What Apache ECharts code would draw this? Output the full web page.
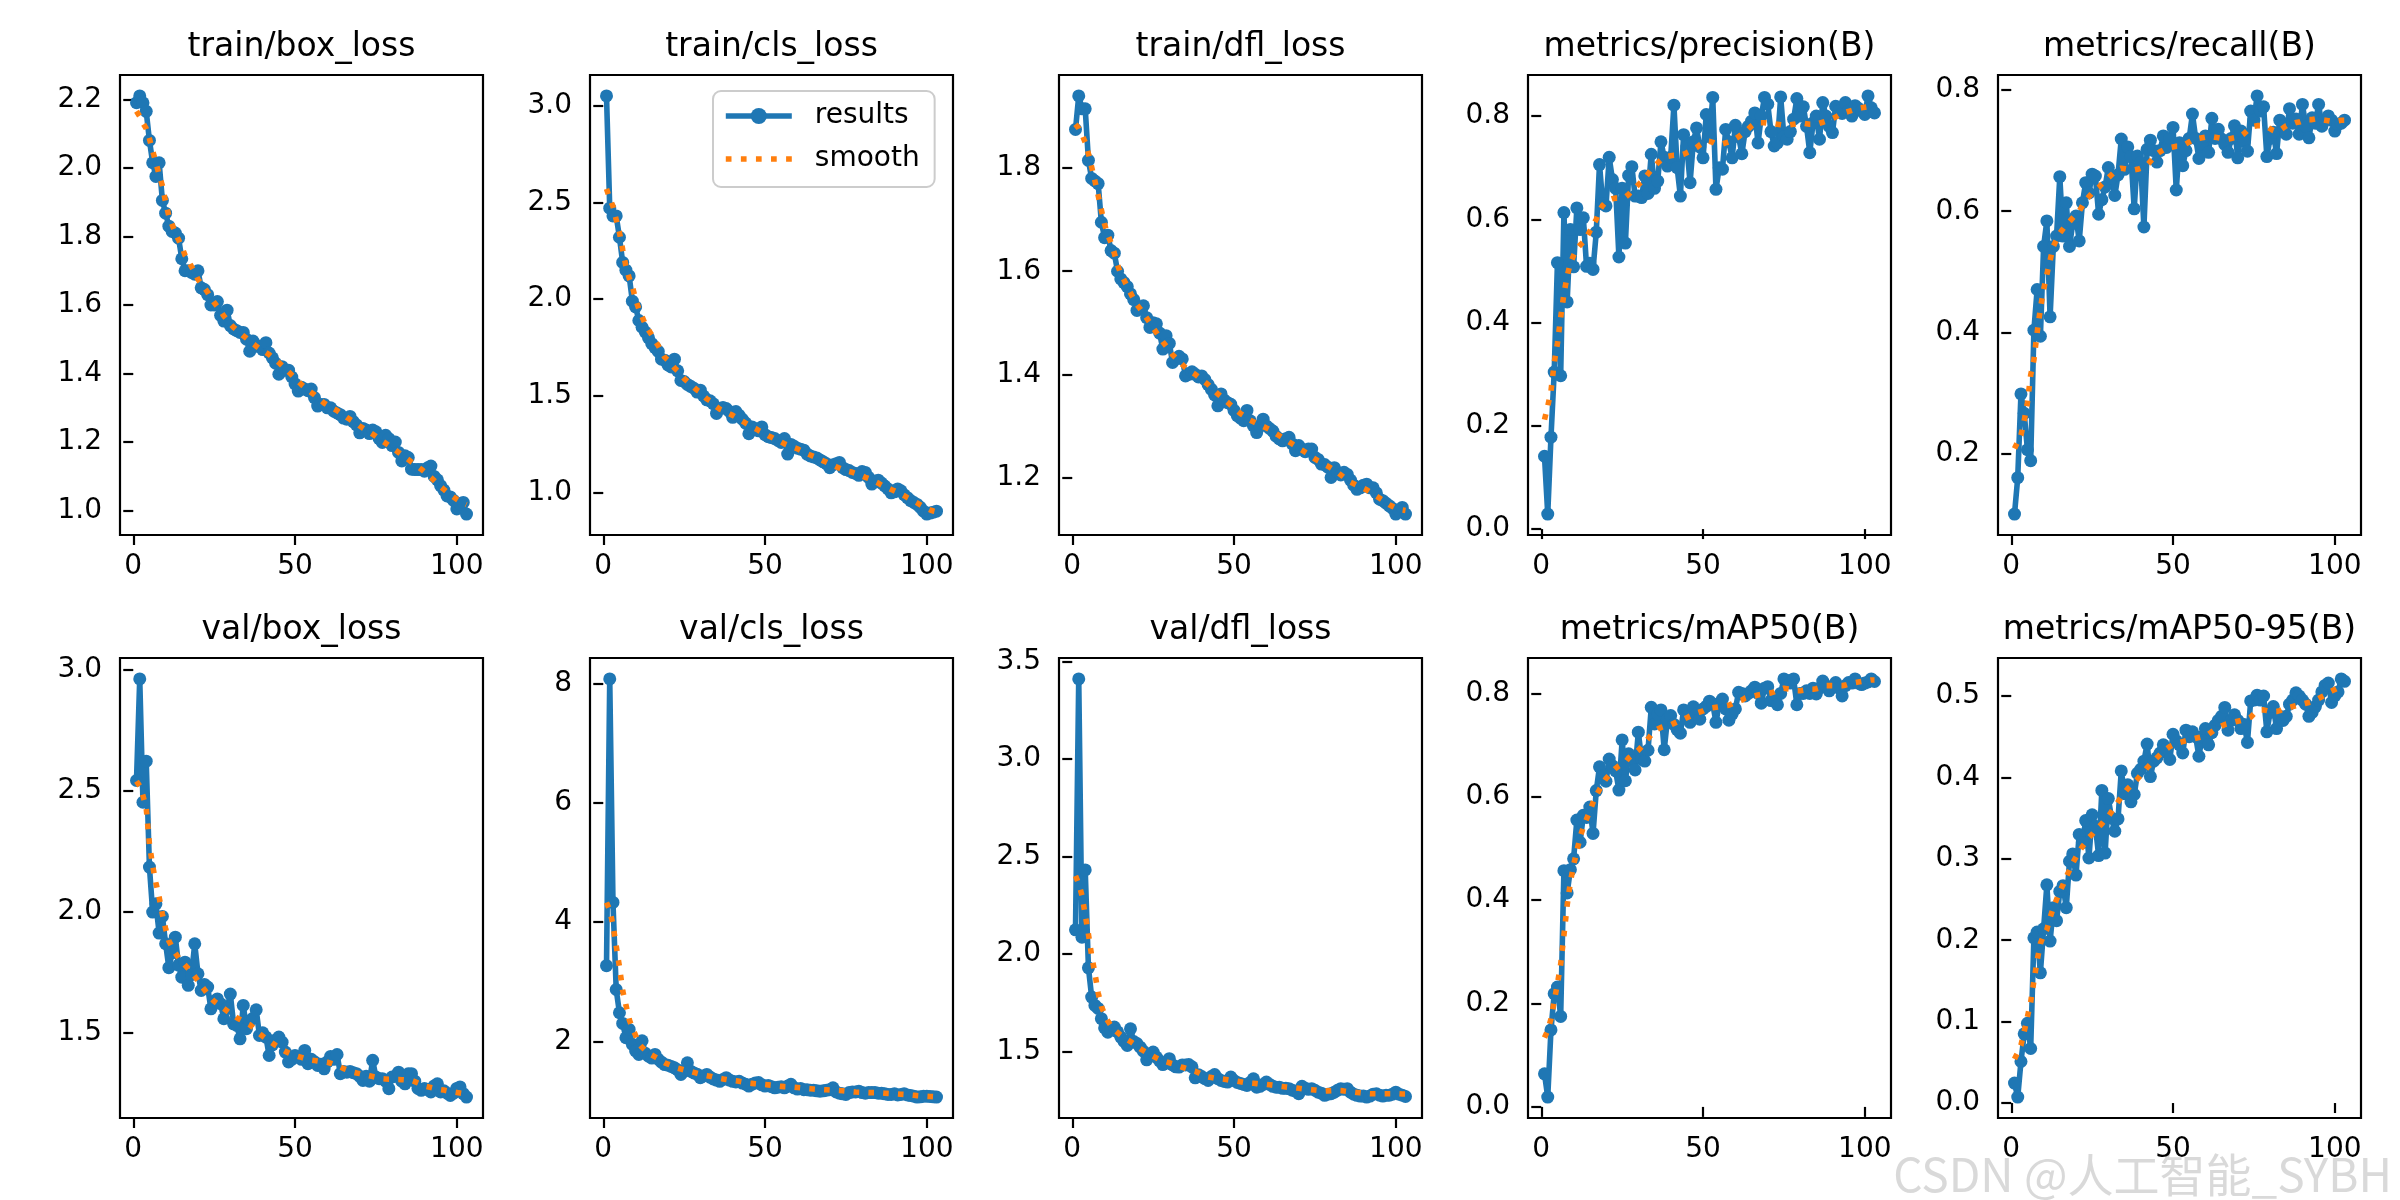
<!DOCTYPE html>
<html>
<head>
<meta charset="utf-8">
<script src="https://cdn.jsdelivr.net/npm/echarts@6/dist/echarts.min.js"></script>
<style>
html, body { margin: 0; background: #fff; }
#chart { width: 2400px; height: 1200px; }
</style>
</head>
<body>
<div id="chart"></div>
<script>
// epoch index (x axis)
const epochs = Array.from({ length: 103 }, (_, i) => i + 1);
const xTicks = ['0', '50', '100'];

const trainBoxLoss = [
  2.19, 2.21, 2.19, 2.165, 2.08, 2.015, 1.975, 2.015, 1.905, 1.868,
  1.83, 1.815, 1.81, 1.795, 1.735, 1.70, 1.70, 1.695, 1.69, 1.70,
  1.65, 1.645, 1.63, 1.60, 1.60, 1.61, 1.57, 1.553, 1.585, 1.54,
  1.53, 1.525, 1.52, 1.52, 1.50, 1.465, 1.495, 1.48, 1.48, 1.47,
  1.49, 1.46, 1.446, 1.43, 1.398, 1.42, 1.41, 1.41, 1.39, 1.37,
  1.349, 1.36, 1.355, 1.35, 1.355, 1.33, 1.305, 1.31, 1.31, 1.30,
  1.30, 1.29, 1.285, 1.28, 1.27, 1.267, 1.275, 1.26, 1.25, 1.227,
  1.24, 1.235, 1.225, 1.235, 1.23, 1.21, 1.199, 1.22, 1.21, 1.19,
  1.20, 1.17, 1.145, 1.16, 1.155, 1.121, 1.12, 1.12, 1.12, 1.115,
  1.125, 1.13, 1.10, 1.09, 1.073, 1.06, 1.043, 1.04, 1.03, 1.005,
  1.02, 1.024, 0.99
];
const trainBoxSmooth = [
  2.165, 2.15, 2.13, 2.115, 2.085, 2.05, 2.015, 1.98, 1.948, 1.90,
  1.86, 1.835, 1.81, 1.79, 1.77, 1.745, 1.73, 1.712, 1.695, 1.675,
  1.662, 1.65, 1.637, 1.62, 1.607, 1.595, 1.582, 1.568, 1.557, 1.545,
  1.535, 1.527, 1.518, 1.51, 1.503, 1.495, 1.487, 1.48, 1.473, 1.467,
  1.461, 1.455, 1.447, 1.44, 1.432, 1.423, 1.414, 1.405, 1.396, 1.387,
  1.377, 1.368, 1.36, 1.352, 1.345, 1.338, 1.33, 1.322, 1.314, 1.308,
  1.302, 1.297, 1.292, 1.285, 1.279, 1.272, 1.266, 1.26, 1.254, 1.247,
  1.241, 1.235, 1.229, 1.223, 1.217, 1.21, 1.203, 1.197, 1.19, 1.184,
  1.177, 1.17, 1.163, 1.156, 1.149, 1.142, 1.135, 1.128, 1.121, 1.113,
  1.105, 1.097, 1.088, 1.079, 1.07, 1.062, 1.054, 1.047, 1.04, 1.033,
  1.027, 1.022, 1.018
];
const trainBoxTicks = ['1.0', '1.2', '1.4', '1.6', '1.8', '2.0', '2.2'];

const trainClsLoss = [
  3.05, 2.47, 2.43, 2.43, 2.32, 2.19, 2.15, 2.12, 1.99, 1.96,
  1.89, 1.855, 1.83, 1.80, 1.77, 1.75, 1.73, 1.69, 1.685, 1.66,
  1.65, 1.69, 1.63, 1.58, 1.575, 1.56, 1.55, 1.54, 1.52, 1.53,
  1.50, 1.48, 1.475, 1.46, 1.41, 1.435, 1.44, 1.435, 1.42, 1.39,
  1.42, 1.40, 1.38, 1.36, 1.305, 1.34, 1.33, 1.32, 1.34, 1.30,
  1.29, 1.285, 1.28, 1.27, 1.26, 1.28, 1.20, 1.25, 1.24, 1.23,
  1.225, 1.22, 1.20, 1.19, 1.185, 1.18, 1.17, 1.16, 1.15, 1.13,
  1.145, 1.15, 1.157, 1.13, 1.12, 1.115, 1.105, 1.10, 1.09, 1.11,
  1.105, 1.08, 1.045, 1.06, 1.065, 1.05, 1.035, 1.02, 1.00, 1.005,
  1.02, 1.01, 0.99, 0.975, 0.96, 0.95, 0.94, 0.925, 0.905, 0.89,
  0.895, 0.90, 0.905
];
const trainClsSmooth = [
  2.57, 2.52, 2.48, 2.41, 2.345, 2.256, 2.17, 2.109, 2.065, 2.0,
  1.95, 1.91, 1.87, 1.84, 1.815, 1.785, 1.76, 1.73, 1.70, 1.685,
  1.665, 1.645, 1.63, 1.61, 1.59, 1.575, 1.56, 1.545, 1.53, 1.52,
  1.50, 1.485, 1.475, 1.46, 1.445, 1.432, 1.425, 1.415, 1.408, 1.40,
  1.39, 1.38, 1.37, 1.36, 1.35, 1.34, 1.332, 1.322, 1.313, 1.305,
  1.295, 1.287, 1.278, 1.27, 1.262, 1.253, 1.246, 1.24, 1.233, 1.227,
  1.219, 1.21, 1.202, 1.195, 1.188, 1.18, 1.173, 1.165, 1.158, 1.15,
  1.143, 1.135, 1.127, 1.12, 1.115, 1.11, 1.106, 1.10, 1.094, 1.087,
  1.08, 1.074, 1.066, 1.058, 1.05, 1.04, 1.032, 1.025, 1.017, 1.01,
  1.002, 0.994, 0.985, 0.975, 0.966, 0.957, 0.948, 0.938, 0.928, 0.92,
  0.912, 0.906, 0.902
];
const trainClsTicks = ['1.0', '1.5', '2.0', '2.5', '3.0'];

const trainDflLoss = [
  1.875, 1.94, 1.915, 1.915, 1.815, 1.78, 1.775, 1.77, 1.695, 1.665,
  1.67, 1.64, 1.635, 1.60, 1.585, 1.578, 1.57, 1.556, 1.545, 1.524,
  1.53, 1.533, 1.51, 1.491, 1.50, 1.498, 1.48, 1.449, 1.475, 1.46,
  1.423, 1.43, 1.435, 1.43, 1.397, 1.40, 1.405, 1.40, 1.395, 1.397,
  1.39, 1.38, 1.371, 1.36, 1.339, 1.362, 1.35, 1.345, 1.342, 1.33,
  1.32, 1.315, 1.31, 1.33, 1.31, 1.30, 1.287, 1.30, 1.313, 1.30,
  1.295, 1.29, 1.28, 1.275, 1.271, 1.275, 1.278, 1.265, 1.252, 1.262,
  1.255, 1.25, 1.255, 1.255, 1.239, 1.235, 1.226, 1.225, 1.22, 1.20,
  1.219, 1.21, 1.205, 1.21, 1.206, 1.195, 1.185, 1.177, 1.18, 1.185,
  1.187, 1.18, 1.18, 1.17, 1.158, 1.155, 1.15, 1.145, 1.14, 1.129,
  1.135, 1.142, 1.129
];
const trainDflSmooth = [
  1.885, 1.877, 1.865, 1.85, 1.828, 1.802, 1.775, 1.747, 1.719, 1.691,
  1.67, 1.655, 1.635, 1.612, 1.595, 1.583, 1.57, 1.558, 1.546, 1.535,
  1.527, 1.518, 1.509, 1.5, 1.49, 1.481, 1.472, 1.463, 1.455, 1.446,
  1.438, 1.432, 1.425, 1.419, 1.413, 1.408, 1.404, 1.40, 1.395, 1.39,
  1.385, 1.38, 1.374, 1.368, 1.362, 1.357, 1.351, 1.346, 1.34, 1.335,
  1.329, 1.324, 1.32, 1.315, 1.311, 1.308, 1.305, 1.302, 1.299, 1.296,
  1.293, 1.289, 1.285, 1.281, 1.277, 1.273, 1.269, 1.265, 1.261, 1.257,
  1.253, 1.249, 1.245, 1.24, 1.236, 1.232, 1.229, 1.225, 1.222, 1.218,
  1.214, 1.21, 1.205, 1.2, 1.195, 1.191, 1.188, 1.185, 1.182, 1.179,
  1.176, 1.172, 1.168, 1.164, 1.16, 1.156, 1.151, 1.147, 1.144, 1.141,
  1.139, 1.137, 1.136
];
const trainDflTicks = ['1.2', '1.4', '1.6', '1.8'];

const precision = [
  0.141, 0.029, 0.178, 0.304, 0.516, 0.297, 0.613, 0.44, 0.58, 0.508,
  0.622, 0.58, 0.603, 0.509, 0.515, 0.503, 0.575, 0.706, 0.63, 0.626,
  0.72, 0.677, 0.66, 0.527, 0.66, 0.554, 0.685, 0.702, 0.645, 0.645,
  0.642, 0.684, 0.65, 0.726, 0.66, 0.674, 0.75, 0.72, 0.703, 0.72,
  0.821, 0.70, 0.645, 0.764, 0.74, 0.671, 0.75, 0.777, 0.74, 0.719,
  0.803, 0.76, 0.836, 0.658, 0.70, 0.697, 0.774, 0.75, 0.719, 0.782,
  0.76, 0.727, 0.77, 0.78, 0.79, 0.806, 0.748, 0.80, 0.836, 0.823,
  0.77, 0.742, 0.748, 0.837, 0.76, 0.755, 0.77, 0.794, 0.834, 0.80,
  0.818, 0.78, 0.729, 0.787, 0.80, 0.755, 0.826, 0.80, 0.78, 0.768,
  0.819, 0.81, 0.805, 0.826, 0.81, 0.80, 0.82, 0.815, 0.81, 0.803,
  0.839, 0.816, 0.806
];
const precisionSmooth = [
  0.212, 0.238, 0.267, 0.322, 0.36, 0.41, 0.455, 0.49, 0.515, 0.53,
  0.543, 0.55, 0.556, 0.565, 0.577, 0.588, 0.60, 0.617, 0.627, 0.634,
  0.638, 0.64, 0.641, 0.641, 0.642, 0.643, 0.648, 0.655, 0.661, 0.667,
  0.673, 0.68, 0.688, 0.696, 0.703, 0.709, 0.715, 0.72, 0.722, 0.723,
  0.724, 0.724, 0.724, 0.726, 0.729, 0.732, 0.735, 0.739, 0.744, 0.748,
  0.752, 0.751, 0.749, 0.746, 0.745, 0.746, 0.748, 0.75, 0.752, 0.756,
  0.76, 0.765, 0.769, 0.775, 0.781, 0.786, 0.787, 0.787, 0.787, 0.786,
  0.786, 0.785, 0.784, 0.783, 0.782, 0.782, 0.783, 0.784, 0.785, 0.786,
  0.786, 0.785, 0.784, 0.784, 0.784, 0.786, 0.788, 0.79, 0.792, 0.795,
  0.798, 0.802, 0.805, 0.807, 0.809, 0.811, 0.813, 0.815, 0.816, 0.817,
  0.818, 0.818, 0.819
];
const precisionTicks = ['0.0', '0.2', '0.4', '0.6', '0.8'];

const recall = [
  0.101, 0.161, 0.299, 0.267, 0.207, 0.189, 0.404, 0.471, 0.394, 0.542,
  0.584, 0.426, 0.542, 0.559, 0.657, 0.559, 0.614, 0.542, 0.58, 0.592,
  0.551, 0.614, 0.647, 0.63, 0.661, 0.658, 0.595, 0.619, 0.64, 0.672,
  0.655, 0.626, 0.66, 0.719, 0.669, 0.706, 0.69, 0.604, 0.691, 0.68,
  0.574, 0.702, 0.717, 0.70, 0.681, 0.70, 0.724, 0.705, 0.72, 0.738,
  0.635, 0.713, 0.675, 0.70, 0.72, 0.76, 0.72, 0.687, 0.71, 0.724,
  0.697, 0.753, 0.72, 0.735, 0.719, 0.71, 0.697, 0.72, 0.741, 0.688,
  0.732, 0.715, 0.699, 0.765, 0.75, 0.79, 0.765, 0.772, 0.69, 0.72,
  0.73, 0.695, 0.75, 0.74, 0.727, 0.769, 0.745, 0.752, 0.727, 0.776,
  0.74, 0.721, 0.754, 0.745, 0.776, 0.74, 0.75, 0.757, 0.75, 0.732,
  0.743, 0.745, 0.75
];
const recallSmooth = [
  0.209, 0.22, 0.231, 0.255, 0.285, 0.33, 0.355, 0.40, 0.44, 0.471,
  0.496, 0.519, 0.542, 0.553, 0.564, 0.571, 0.578, 0.583, 0.589, 0.595,
  0.60, 0.609, 0.618, 0.624, 0.63, 0.635, 0.639, 0.645, 0.65, 0.655,
  0.66, 0.665, 0.669, 0.671, 0.67, 0.669, 0.668, 0.668, 0.669, 0.671,
  0.673, 0.676, 0.682, 0.688, 0.694, 0.698, 0.701, 0.704, 0.705, 0.706,
  0.707, 0.707, 0.708, 0.711, 0.714, 0.717, 0.719, 0.72, 0.721, 0.722,
  0.723, 0.723, 0.722, 0.721, 0.72, 0.719, 0.719, 0.72, 0.721, 0.722,
  0.724, 0.728, 0.733, 0.738, 0.74, 0.741, 0.741, 0.741, 0.739, 0.736,
  0.733, 0.731, 0.733, 0.737, 0.741, 0.743, 0.744, 0.746, 0.747, 0.749,
  0.75, 0.751, 0.751, 0.752, 0.752, 0.751, 0.75, 0.749, 0.748, 0.748,
  0.749, 0.75, 0.75
];
const recallTicks = ['0.2', '0.4', '0.6', '0.8'];

const valBoxLoss = [
  2.543, 2.963, 2.453, 2.623, 2.185, 1.999, 2.033, 1.912, 1.981, 1.868,
  1.769, 1.83, 1.895, 1.78, 1.73, 1.792, 1.696, 1.74, 1.868, 1.744,
  1.675, 1.70, 1.689, 1.599, 1.63, 1.64, 1.62, 1.558, 1.60, 1.66,
  1.537, 1.53, 1.475, 1.613, 1.517, 1.55, 1.56, 1.595, 1.489, 1.50,
  1.482, 1.406, 1.45, 1.47, 1.482, 1.461, 1.42, 1.379, 1.39, 1.406,
  1.40, 1.39, 1.427, 1.372, 1.39, 1.38, 1.365, 1.37, 1.351, 1.38,
  1.402, 1.39, 1.41, 1.331, 1.34, 1.337, 1.34, 1.335, 1.331, 1.32,
  1.303, 1.32, 1.30, 1.386, 1.317, 1.31, 1.31, 1.30, 1.269, 1.317,
  1.32, 1.337, 1.30, 1.289, 1.33, 1.331, 1.30, 1.27, 1.262, 1.27,
  1.265, 1.255, 1.28, 1.289, 1.255, 1.26, 1.25, 1.241, 1.25, 1.27,
  1.276, 1.248, 1.234
];
const valBoxSmooth = [
  2.54, 2.52, 2.48, 2.43, 2.28, 2.19, 2.12, 2.06, 1.99, 1.93,
  1.88, 1.855, 1.83, 1.81, 1.795, 1.78, 1.765, 1.75, 1.733, 1.715,
  1.695, 1.678, 1.66, 1.645, 1.63, 1.62, 1.61, 1.60, 1.59, 1.58,
  1.572, 1.562, 1.555, 1.548, 1.54, 1.533, 1.522, 1.51, 1.496, 1.486,
  1.476, 1.466, 1.457, 1.448, 1.44, 1.431, 1.423, 1.417, 1.411, 1.406,
  1.402, 1.398, 1.394, 1.39, 1.387, 1.385, 1.383, 1.381, 1.38, 1.378,
  1.374, 1.369, 1.363, 1.358, 1.352, 1.347, 1.342, 1.337, 1.334, 1.331,
  1.328, 1.325, 1.322, 1.319, 1.316, 1.313, 1.31, 1.309, 1.308, 1.308,
  1.307, 1.307, 1.306, 1.305, 1.304, 1.303, 1.298, 1.292, 1.286, 1.28,
  1.277, 1.274, 1.271, 1.268, 1.265, 1.263, 1.26, 1.258, 1.255, 1.253,
  1.251, 1.249, 1.248
];
const valBoxTicks = ['1.5', '2.0', '2.5', '3.0'];

const valClsLoss = [
  3.27, 8.08, 4.33, 2.87, 2.48, 2.3, 2.06, 2.2, 1.95, 1.84,
  1.78, 2.01, 1.8, 1.75, 1.72, 1.78, 1.7, 1.65, 1.61, 1.6,
  1.58, 1.556, 1.52, 1.445, 1.5, 1.64, 1.5, 1.47, 1.45, 1.39,
  1.42, 1.445, 1.4, 1.37, 1.35, 1.33, 1.36, 1.39, 1.35, 1.33,
  1.32, 1.33, 1.3, 1.28, 1.25, 1.28, 1.3, 1.31, 1.27, 1.25,
  1.26, 1.24, 1.22, 1.23, 1.24, 1.22, 1.25, 1.28, 1.22, 1.2,
  1.21, 1.19, 1.19, 1.18, 1.18, 1.17, 1.165, 1.17, 1.18, 1.19,
  1.22, 1.15, 1.13, 1.12, 1.11, 1.14, 1.15, 1.15, 1.165, 1.14,
  1.13, 1.14, 1.14, 1.14, 1.13, 1.13, 1.12, 1.11, 1.11, 1.12,
  1.1, 1.11, 1.12, 1.1, 1.09, 1.08, 1.065, 1.07, 1.08, 1.08,
  1.075, 1.07, 1.065
];
const valClsSmooth = [
  4.33, 4.2, 3.95, 3.6, 3.25, 2.85, 2.61, 2.37, 2.22, 2.1,
  1.96, 1.9, 1.85, 1.8, 1.77, 1.74, 1.71, 1.67, 1.64, 1.62,
  1.6, 1.575, 1.55, 1.535, 1.52, 1.51, 1.495, 1.48, 1.465, 1.45,
  1.435, 1.425, 1.415, 1.40, 1.39, 1.38, 1.37, 1.36, 1.35, 1.345,
  1.34, 1.33, 1.32, 1.31, 1.30, 1.295, 1.29, 1.285, 1.28, 1.275,
  1.27, 1.265, 1.258, 1.25, 1.245, 1.24, 1.237, 1.233, 1.23, 1.225,
  1.22, 1.215, 1.21, 1.205, 1.20, 1.195, 1.192, 1.19, 1.187, 1.184,
  1.181, 1.178, 1.175, 1.17, 1.165, 1.16, 1.155, 1.15, 1.147, 1.145,
  1.142, 1.14, 1.14, 1.14, 1.138, 1.135, 1.13, 1.127, 1.124, 1.12,
  1.117, 1.113, 1.11, 1.105, 1.10, 1.095, 1.09, 1.086, 1.082, 1.078,
  1.075, 1.072, 1.07
];
const valClsTicks = ['2', '4', '6', '8'];

const valDflLoss = [
  2.123, 3.41, 2.085, 2.43, 1.928, 1.778, 1.735, 1.72, 1.667, 1.62,
  1.598, 1.61, 1.624, 1.6, 1.573, 1.55, 1.53, 1.615, 1.55, 1.54,
  1.521, 1.5, 1.456, 1.48, 1.496, 1.47, 1.45, 1.432, 1.44, 1.462,
  1.43, 1.42, 1.419, 1.43, 1.43, 1.432, 1.42, 1.364, 1.38, 1.37,
  1.36, 1.35, 1.37, 1.381, 1.36, 1.35, 1.345, 1.342, 1.368, 1.35,
  1.34, 1.335, 1.33, 1.325, 1.34, 1.359, 1.316, 1.32, 1.33, 1.342,
  1.33, 1.32, 1.316, 1.315, 1.31, 1.31, 1.308, 1.3, 1.295, 1.282,
  1.32, 1.31, 1.305, 1.308, 1.3, 1.29, 1.285, 1.274, 1.28, 1.282,
  1.29, 1.3, 1.308, 1.305, 1.308, 1.29, 1.28, 1.274, 1.27, 1.27,
  1.265, 1.27, 1.28, 1.282, 1.275, 1.27, 1.274, 1.275, 1.28, 1.29,
  1.28, 1.275, 1.268
];
const valDflSmooth = [
  2.40, 2.36, 2.30, 2.20, 2.10, 1.99, 1.90, 1.80, 1.73, 1.69,
  1.655, 1.63, 1.61, 1.596, 1.583, 1.57, 1.56, 1.55, 1.538, 1.525,
  1.513, 1.503, 1.493, 1.483, 1.474, 1.466, 1.458, 1.451, 1.446, 1.441,
  1.436, 1.43, 1.424, 1.418, 1.413, 1.408, 1.403, 1.398, 1.39, 1.382,
  1.375, 1.368, 1.365, 1.362, 1.36, 1.359, 1.357, 1.354, 1.351, 1.348,
  1.347, 1.344, 1.341, 1.339, 1.337, 1.336, 1.334, 1.332, 1.331, 1.33,
  1.328, 1.326, 1.324, 1.321, 1.319, 1.317, 1.315, 1.313, 1.312, 1.31,
  1.308, 1.306, 1.305, 1.303, 1.301, 1.299, 1.297, 1.296, 1.297, 1.298,
  1.299, 1.3, 1.299, 1.296, 1.294, 1.292, 1.291, 1.289, 1.287, 1.285,
  1.283, 1.282, 1.282, 1.282, 1.282, 1.282, 1.282, 1.282, 1.282, 1.282,
  1.282, 1.281, 1.281
];
const valDflTicks = ['1.5', '2.0', '2.5', '3.0', '3.5'];

const mAP50 = [
  0.064, 0.019, 0.149, 0.219, 0.232, 0.175, 0.457, 0.414, 0.459, 0.48,
  0.555, 0.512, 0.564, 0.56, 0.58, 0.529, 0.612, 0.658, 0.64, 0.63,
  0.673, 0.66, 0.65, 0.613, 0.71, 0.631, 0.683, 0.67, 0.652, 0.725,
  0.673, 0.669, 0.69, 0.773, 0.741, 0.76, 0.768, 0.691, 0.75, 0.757,
  0.74, 0.73, 0.723, 0.768, 0.755, 0.744, 0.774, 0.76, 0.75, 0.77,
  0.775, 0.785, 0.78, 0.744, 0.78, 0.789, 0.77, 0.748, 0.76, 0.77,
  0.802, 0.8, 0.795, 0.8, 0.805, 0.812, 0.80, 0.781, 0.81, 0.813,
  0.786, 0.79, 0.778, 0.80, 0.828, 0.825, 0.82, 0.828, 0.778, 0.80,
  0.80, 0.805, 0.80, 0.81, 0.799, 0.81, 0.824, 0.815, 0.805, 0.812,
  0.821, 0.81, 0.795, 0.815, 0.821, 0.82, 0.828, 0.82, 0.817, 0.82,
  0.822, 0.828, 0.823
];
const mAP50Smooth = [
  0.134, 0.148, 0.17, 0.205, 0.238, 0.276, 0.332, 0.39, 0.435, 0.468,
  0.495, 0.522, 0.541, 0.557, 0.572, 0.589, 0.603, 0.614, 0.626, 0.635,
  0.642, 0.649, 0.655, 0.66, 0.664, 0.667, 0.675, 0.68, 0.685, 0.69,
  0.697, 0.705, 0.712, 0.72, 0.727, 0.731, 0.734, 0.736, 0.738, 0.739,
  0.742, 0.745, 0.748, 0.75, 0.753, 0.756, 0.76, 0.762, 0.764, 0.766,
  0.769, 0.771, 0.772, 0.773, 0.774, 0.775, 0.776, 0.777, 0.78, 0.783,
  0.785, 0.787, 0.791, 0.793, 0.794, 0.795, 0.797, 0.798, 0.799, 0.80,
  0.801, 0.803, 0.806, 0.808, 0.81, 0.809, 0.808, 0.807, 0.805, 0.805,
  0.806, 0.807, 0.808, 0.808, 0.809, 0.811, 0.813, 0.815, 0.815, 0.815,
  0.815, 0.815, 0.815, 0.816, 0.818, 0.819, 0.821, 0.822, 0.823, 0.824,
  0.825, 0.826, 0.826
];
const mAP50Ticks = ['0.0', '0.2', '0.4', '0.6', '0.8'];

const mAP5095 = [
  0.0245, 0.0073, 0.051, 0.085, 0.098, 0.067, 0.203, 0.21, 0.16, 0.214,
  0.268, 0.199, 0.24, 0.224, 0.26, 0.267, 0.24, 0.297, 0.306, 0.28,
  0.33, 0.32, 0.347, 0.301, 0.354, 0.34, 0.304, 0.384, 0.307, 0.374,
  0.35, 0.334, 0.349, 0.408, 0.38, 0.391, 0.37, 0.379, 0.405, 0.41,
  0.42, 0.441, 0.401, 0.42, 0.424, 0.43, 0.44, 0.435, 0.422, 0.453,
  0.445, 0.44, 0.43, 0.458, 0.45, 0.456, 0.45, 0.426, 0.45, 0.46,
  0.44, 0.455, 0.464, 0.47, 0.475, 0.486, 0.458, 0.47, 0.477, 0.47,
  0.46, 0.465, 0.443, 0.494, 0.495, 0.501, 0.495, 0.50, 0.456, 0.48,
  0.487, 0.46, 0.475, 0.47, 0.475, 0.49, 0.495, 0.504, 0.50, 0.495,
  0.49, 0.475, 0.48, 0.487, 0.495, 0.505, 0.513, 0.516, 0.492, 0.50,
  0.505, 0.521, 0.518
];
const mAP5095Smooth = [
  0.054, 0.062, 0.071, 0.088, 0.106, 0.124, 0.15, 0.175, 0.196, 0.206,
  0.213, 0.228, 0.24, 0.25, 0.26, 0.268, 0.278, 0.286, 0.295, 0.302,
  0.309, 0.315, 0.32, 0.326, 0.33, 0.335, 0.339, 0.343, 0.348, 0.352,
  0.358, 0.364, 0.37, 0.376, 0.381, 0.386, 0.39, 0.394, 0.398, 0.403,
  0.407, 0.412, 0.416, 0.42, 0.424, 0.428, 0.432, 0.435, 0.438, 0.44,
  0.442, 0.443, 0.444, 0.445, 0.446, 0.447, 0.448, 0.449, 0.45, 0.451,
  0.453, 0.456, 0.459, 0.461, 0.463, 0.465, 0.466, 0.467, 0.468, 0.469,
  0.47, 0.471, 0.472, 0.474, 0.478, 0.481, 0.483, 0.483, 0.482, 0.481,
  0.481, 0.481, 0.482, 0.484, 0.485, 0.486, 0.487, 0.488, 0.489, 0.49,
  0.491, 0.492, 0.493, 0.495, 0.497, 0.499, 0.501, 0.504, 0.506, 0.508,
  0.51, 0.511, 0.512
];
const mAP5095Ticks = ['0.0', '0.1', '0.2', '0.3', '0.4', '0.5'];

const panels = [
  { title: 'train/box_loss', results: trainBoxLoss, smooth: trainBoxSmooth, ticks: trainBoxTicks },
  { title: 'train/cls_loss', results: trainClsLoss, smooth: trainClsSmooth, ticks: trainClsTicks },
  { title: 'train/dfl_loss', results: trainDflLoss, smooth: trainDflSmooth, ticks: trainDflTicks },
  { title: 'metrics/precision(B)', results: precision, smooth: precisionSmooth, ticks: precisionTicks },
  { title: 'metrics/recall(B)', results: recall, smooth: recallSmooth, ticks: recallTicks },
  { title: 'val/box_loss', results: valBoxLoss, smooth: valBoxSmooth, ticks: valBoxTicks },
  { title: 'val/cls_loss', results: valClsLoss, smooth: valClsSmooth, ticks: valClsTicks },
  { title: 'val/dfl_loss', results: valDflLoss, smooth: valDflSmooth, ticks: valDflTicks },
  { title: 'metrics/mAP50(B)', results: mAP50, smooth: mAP50Smooth, ticks: mAP50Ticks },
  { title: 'metrics/mAP50-95(B)', results: mAP5095, smooth: mAP5095Smooth, ticks: mAP5095Ticks }
];

const FONT = 'DejaVu Sans';
const BLUE = '#1f77b4';
const ORANGE = '#ff7f0e';
const colLeft = [120, 590, 1059, 1528, 1998];
const rowTop = [75, 658];
const plotW = 363;
const plotH = 460;

// matplotlib style autoscale: 5% margin on each side
function padRange(values) {
  const lo = Math.min.apply(null, values);
  const hi = Math.max.apply(null, values);
  const m = (hi - lo) * 0.05;
  return [lo - m, hi + m];
}
const xRange = padRange(epochs);
const xTickValues = xTicks.map(Number);

const grid = [], xAxis = [], yAxis = [], series = [], title = [];

panels.forEach(function (p, i) {
  const left = colLeft[i % 5];
  const top = rowTop[Math.floor(i / 5)];
  const yRange = padRange(p.results.concat(p.smooth));
  const yTickValues = p.ticks.map(Number);
  const decimals = (p.ticks[0].split('.')[1] || '').length;

  grid.push({ left: left, top: top, width: plotW, height: plotH, show: true, borderColor: '#000', borderWidth: 2.2, backgroundColor: 'transparent' });
  title.push({
    text: p.title, left: left + plotW / 2, top: top - 44, textAlign: 'center', padding: 0,
    textStyle: { fontFamily: FONT, fontSize: 33, fontWeight: 'normal', color: '#000' }
  });
  xAxis.push({
    type: 'value', gridIndex: i, min: xRange[0], max: xRange[1],
    axisLine: { show: false }, splitLine: { show: false },
    axisTick: { show: true, length: 10, lineStyle: { color: '#000', width: 2.2 }, customValues: xTickValues },
    axisLabel: { customValues: xTickValues, fontFamily: FONT, fontSize: 28, color: '#000', margin: 18, formatter: v => String(v) }
  });
  yAxis.push({
    type: 'value', gridIndex: i, min: yRange[0], max: yRange[1],
    axisLine: { show: false }, splitLine: { show: false },
    axisTick: { show: true, length: 10, lineStyle: { color: '#000', width: 2.2 }, customValues: yTickValues },
    axisLabel: { customValues: yTickValues, fontFamily: FONT, fontSize: 28, color: '#000', margin: 18, formatter: v => v.toFixed(decimals) }
  });
  series.push({
    type: 'line', name: 'results', xAxisIndex: i, yAxisIndex: i,
    data: epochs.map((e, k) => [e, p.results[k]]),
    symbol: 'circle', symbolSize: 13, showSymbol: true,
    lineStyle: { color: BLUE, width: 5.6 }, itemStyle: { color: BLUE },
    emphasis: { disabled: true }, animation: false, z: 2
  });
  series.push({
    type: 'line', name: 'smooth', xAxisIndex: i, yAxisIndex: i,
    data: epochs.map((e, k) => [e, p.smooth[k]]),
    symbol: 'none',
    lineStyle: { color: ORANGE, width: 5.6, type: [5.6, 9.2], cap: 'butt' }, itemStyle: { color: ORANGE },
    emphasis: { disabled: true }, animation: false, z: 3
  });
});

const dots = 'path://M0 0h5.6v5.6h-5.6z M14.8 0h5.6v5.6h-5.6z M29.6 0h5.6v5.6h-5.6z M44.4 0h5.6v5.6h-5.6z M59.2 0h5.6v5.6h-5.6z';

const chart = echarts.init(document.getElementById('chart'), null, { renderer: 'canvas' });
chart.setOption({
  backgroundColor: '#fff',
  animation: false,
  title: title,
  grid: grid,
  xAxis: xAxis,
  yAxis: yAxis,
  series: series,
  legend: {
    data: [
      { name: 'results', lineStyle: { width: 5.6, color: BLUE } },
      { name: 'smooth', icon: dots }
    ],
    orient: 'vertical', left: 713, top: 91,
    itemWidth: 66, itemHeight: 20, itemGap: 15,
    padding: [11, 15, 14, 10],
    backgroundColor: 'rgba(255,255,255,0.8)', borderColor: '#cccccc', borderWidth: 2, borderRadius: 8,
    selectedMode: false,
    textStyle: { fontFamily: FONT, fontSize: 28, color: '#000', padding: [0, 0, 0, 18] }
  },
  graphic: [{
    type: 'text', right: 8, top: 1152,
    style: { text: 'CSDN @人工智能_SYBH', font: '46px "Noto Sans CJK SC"', fill: 'rgba(170,170,170,0.45)' }
  }]
});
</script>
</body>
</html>
